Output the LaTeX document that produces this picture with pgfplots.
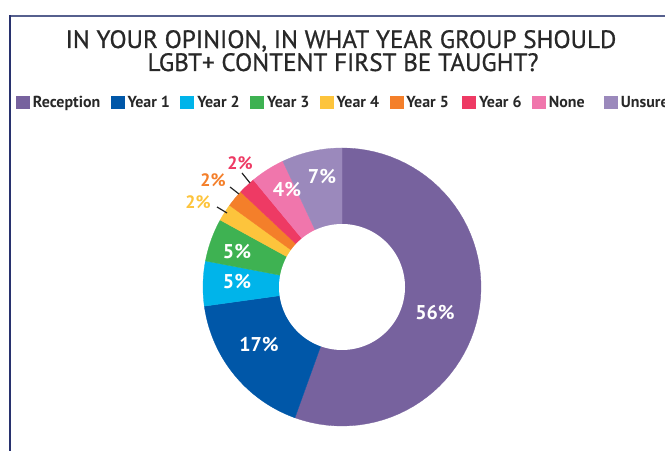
\documentclass[border=0pt]{standalone}
\usepackage{pgfplots}
\pgfplotsset{compat=1.18}
\usepackage{fontspec}
\setmainfont{PT Sans}
\newfontfamily\titlefont[FakeBold=0.8]{PT Sans}
\definecolor{recep}{RGB}{119,98,158}
\definecolor{yone}{RGB}{0,87,168}
\definecolor{ytwo}{RGB}{0,180,234}
\definecolor{ythree}{RGB}{62,178,82}
\definecolor{yfour}{RGB}{253,196,60}
\definecolor{yfive}{RGB}{244,127,42}
\definecolor{ysix}{RGB}{238,58,100}
\definecolor{nonec}{RGB}{240,118,172}
\definecolor{unsure}{RGB}{155,137,188}
\definecolor{framec}{RGB}{40,50,110}
\definecolor{topc}{RGB}{86,96,142}
\definecolor{txt}{RGB}{40,40,40}
\newcommand\cum{0}
\newcommand\slice[3]{%
  \pgfmathsetmacro\sA{\cum}%
  \pgfmathsetmacro\sB{\cum+#2}%
  \edef\doslice{\noexpand\addplot[fill=#1, draw=#1, line width=0.3pt, domain=\sA:\sB, samples=60, variable=\noexpand\t] ({342+139*cos(90-3.6*\noexpand\t)},{164+139*sin(90-3.6*\noexpand\t)}) -- (axis cs:342,164) -- cycle;}%
  \doslice
  \addlegendentry{#3}%
  \xdef\cum{\sB}}
\begin{document}
\begin{tikzpicture}
\useasboundingbox (0,0) rectangle (665bp,451bp);
\fill[white] (0,0) rectangle (665bp,451bp);
\begin{axis}[
  at={(0,0)}, anchor=south west,
  scale only axis, width=665bp, height=451bp,
  xmin=0, xmax=665, ymin=0, ymax=451,
  axis lines=none, clip=false,
  legend columns=-1,
  legend image code/.code={\fill[#1] (0bp,-6bp) rectangle (13bp,6bp);},
  legend style={at={(axis cs:16,349)}, anchor=west, draw=none, fill=none,
    font=\bfseries\fontsize{16}{16}\selectfont\color{txt}, inner sep=0pt,
    nodes={inner sep=0pt, text depth=0pt},
    /tikz/every odd column/.append style={column sep=3.5bp},
    /tikz/every even column/.append style={column sep=10.5bp}},
]
\slice{recep}{55.5}{Reception}
\slice{yone}{17.3}{Year 1}
\slice{ytwo}{5.2}{Year 2}
\slice{ythree}{5}{Year 3}
\slice{yfour}{2}{Year 4}
\slice{yfive}{2}{Year 5\kern3bp}
\slice{ysix}{2}{Year 6}
\slice{nonec}{4}{None\kern9bp}
\slice{unsure}{7}{Unsure}
\addplot[fill=white, draw=none, domain=0:360, samples=150, forget plot] ({342+63*cos(x)},{164+63*sin(x)}) -- cycle;
\begin{scope}[every node/.style={font=\bfseries\fontsize{20}{20}\selectfont, text=white}]
\node at (axis cs:435,138) {56\%};
\node at (axis cs:259,106) {17\%};
\node at (axis cs:237,169) {5\%};
\node at (axis cs:237,199) {5\%};
\node at (axis cs:322,274) {7\%};
\node at (axis cs:287,261) {4\%};
\end{scope}
\begin{scope}[every node/.style={font=\bfseries\fontsize{18}{18}\selectfont}]
\node[text=ysix] at (axis cs:240,288) {2\%};
\node[text=yfive] at (axis cs:213,271) {2\%};
\node[text=yfour] at (axis cs:198,249) {2\%};
\end{scope}
\draw[line width=1.2pt, black!85] (axis cs:242,278) -- (axis cs:250,268);
\draw[line width=1.2pt, black!85] (axis cs:230,264) -- (axis cs:239,257);
\draw[line width=1.2pt, black!85] (axis cs:217,244) -- (axis cs:227,238);
\node[font=\titlefont\fontsize{25.2}{25.2}\selectfont, text=txt, anchor=base] at (axis cs:341,403) {IN YOUR OPINION, IN WHAT YEAR GROUP SHOULD};
\node[font=\titlefont\fontsize{25.2}{25.2}\selectfont, text=txt, anchor=base] at (axis cs:343,380) {LGBT+ CONTENT FIRST BE TAUGHT?};
\end{axis}
\draw[topc, line width=2bp] (9bp,435bp) -- (665bp,435bp);
\draw[framec, line width=2bp] (9.5bp,0) -- (9.5bp,436bp);
\end{tikzpicture}
\end{document}
